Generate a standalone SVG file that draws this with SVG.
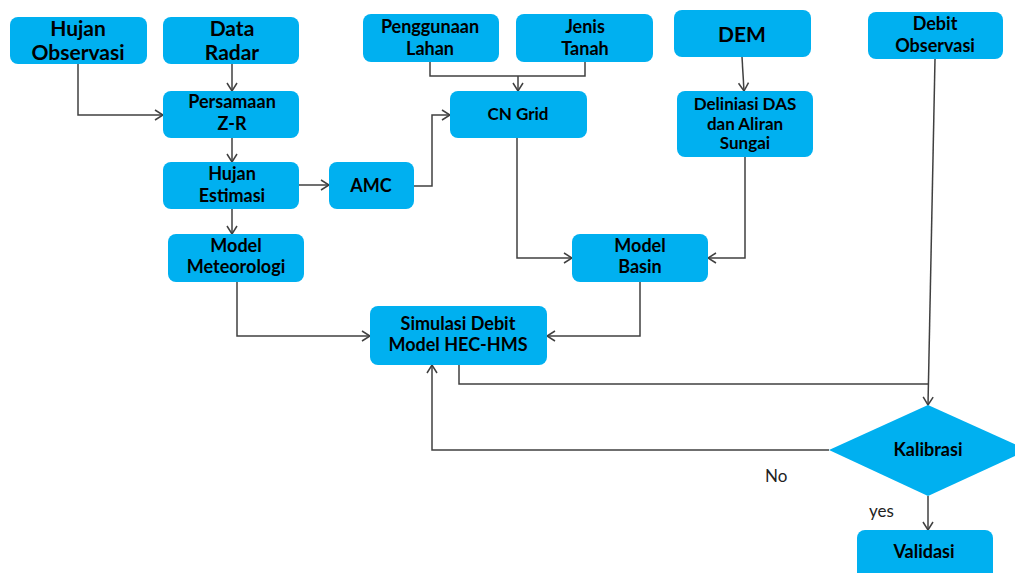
<svg xmlns="http://www.w3.org/2000/svg" width="1015" height="573" viewBox="0 0 1015 573">
<style>
.box{fill:#00B0F0;}
.t{font-family:Lato,"Open Sans","Liberation Sans",sans-serif;font-weight:bold;fill:#000;text-anchor:middle;font-size:18px;}
.s{font-size:17px;}
.big{font-size:21px;}
.lab{font-family:Lato,"Open Sans","Liberation Sans",sans-serif;fill:#222;font-size:17px;}
.c{fill:none;stroke:#404040;stroke-width:1.5;}
</style>
<defs>
<marker id="ah" viewBox="0 0 10 12" refX="9" refY="6" markerWidth="10" markerHeight="12" markerUnits="userSpaceOnUse" orient="auto">
<path d="M1,1 L9,6 L1,11" fill="none" stroke="#404040" stroke-width="1.5"/>
</marker>
</defs>
<rect width="1015" height="573" fill="#fff"/>
<g id="connectors">
<path class="c" d="M78,64 V115 H163" marker-end="url(#ah)"/>
<path class="c" d="M232,64 V91" marker-end="url(#ah)"/>
<path class="c" d="M232,138 V162" marker-end="url(#ah)"/>
<path class="c" d="M299,185 H329" marker-end="url(#ah)"/>
<path class="c" d="M232,209 V234" marker-end="url(#ah)"/>
<path class="c" d="M430,62 V76 H585 V62"/>
<path class="c" d="M518,76 V91" marker-end="url(#ah)"/>
<path class="c" d="M414,186 H432 V115 H450" marker-end="url(#ah)"/>
<path class="c" d="M742,57 L744,91" marker-end="url(#ah)"/>
<path class="c" d="M517,138 V258 H572" marker-end="url(#ah)"/>
<path class="c" d="M745,157 V258 H708" marker-end="url(#ah)"/>
<path class="c" d="M237,282 V336 H370" marker-end="url(#ah)"/>
<path class="c" d="M640,282 V336 H547" marker-end="url(#ah)"/>
<path class="c" d="M459,365 V384 H929"/>
<path class="c" d="M935,59 L928,405" marker-end="url(#ah)"/>
<path class="c" d="M829,450 H432 V365" marker-end="url(#ah)"/>
<path class="c" d="M928,496 V530" marker-end="url(#ah)"/>
</g>
<g id="hujan-observasi"><rect class="box" x="10" y="17" width="137" height="47" rx="8"/><text class="t big" x="78" y="36">Hujan</text><text class="t big" x="78" y="60">Observasi</text></g>
<g id="data-radar"><rect class="box" x="163" y="17" width="136" height="47" rx="8"/><text class="t big" x="232" y="36">Data</text><text class="t big" x="232" y="60">Radar</text></g>
<g id="persamaan"><rect class="box" x="163" y="91" width="136" height="47" rx="8"/><text class="t" x="232" y="108">Persamaan</text><text class="t" x="232" y="130">Z-R</text></g>
<g id="hujan-estimasi"><rect class="box" x="163" y="162" width="136" height="47" rx="8"/><text class="t" x="232" y="180">Hujan</text><text class="t" x="232" y="202">Estimasi</text></g>
<g id="amc"><rect class="box" x="329" y="162" width="85" height="47" rx="8"/><text class="t" x="371" y="192">AMC</text></g>
<g id="penggunaan-lahan"><rect class="box" x="363" y="14" width="136" height="48" rx="8"/><text class="t" x="430" y="33">Penggunaan</text><text class="t" x="430" y="55">Lahan</text></g>
<g id="jenis-tanah"><rect class="box" x="516" y="14" width="137" height="48" rx="8"/><text class="t" x="585" y="33">Jenis</text><text class="t" x="585" y="55">Tanah</text></g>
<g id="cn-grid"><rect class="box" x="450" y="91" width="137" height="47" rx="8"/><text class="t s" x="518" y="120">CN Grid</text></g>
<g id="dem"><rect class="box" x="674" y="10" width="137" height="47" rx="8"/><text class="t big" x="742" y="42">DEM</text></g>
<g id="deliniasi"><rect class="box" x="677" y="91" width="136" height="66" rx="8"/><text class="t s" x="745" y="110">Deliniasi DAS</text><text class="t s" x="745" y="130">dan Aliran</text><text class="t s" x="745" y="149">Sungai</text></g>
<g id="debit-observasi"><rect class="box" x="868" y="12" width="135" height="47" rx="8"/><text class="t" x="935" y="30">Debit</text><text class="t" x="935" y="52">Observasi</text></g>
<g id="model-meteorologi"><rect class="box" x="168" y="234" width="136" height="48" rx="8"/><text class="t" x="236" y="252">Model</text><text class="t" x="236" y="273">Meteorologi</text></g>
<g id="model-basin"><rect class="box" x="572" y="234" width="136" height="48" rx="8"/><text class="t" x="640" y="252">Model</text><text class="t" x="640" y="273">Basin</text></g>
<g id="simulasi"><rect class="box" x="370" y="306" width="177" height="59" rx="8"/><text class="t" x="458" y="330">Simulasi Debit</text><text class="t" x="458" y="351">Model HEC-HMS</text></g>
<g id="kalibrasi"><polygon class="box" points="928,405 1028,450 928,496 829,450"/><text class="t" x="928" y="456">Kalibrasi</text></g>
<g id="validasi"><rect class="box" x="857" y="530" width="136" height="50" rx="8"/><text class="t" x="924" y="558">Validasi</text></g>
<g id="labels"><text class="lab" x="765" y="482">No</text><text class="lab" x="869" y="517">yes</text></g>
</svg>
